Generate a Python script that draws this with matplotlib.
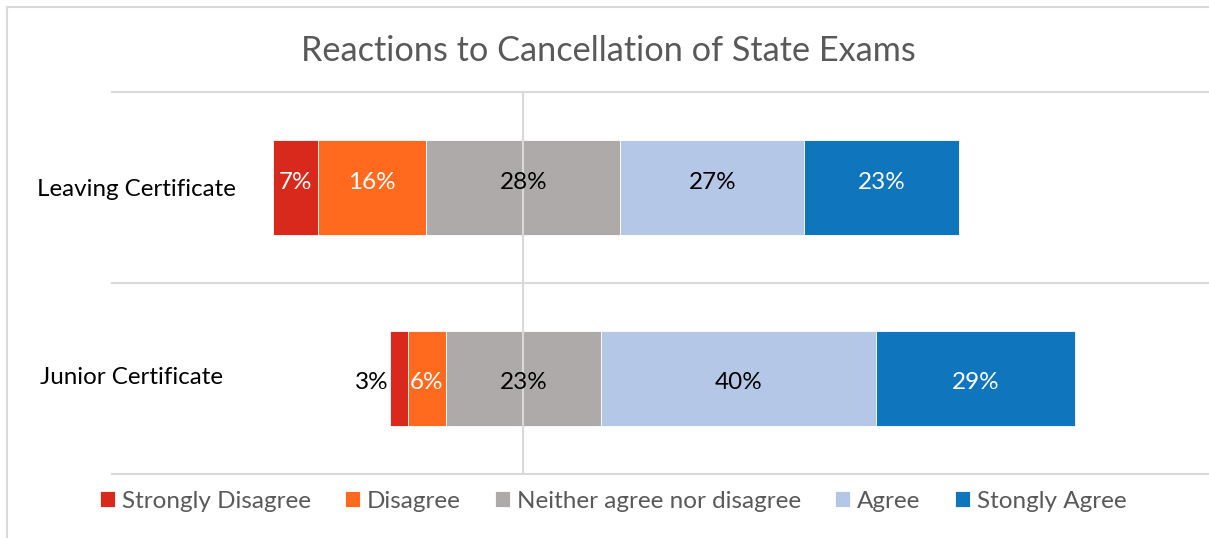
import matplotlib.pyplot as plt
from matplotlib.lines import Line2D

plt.rcParams['font.family'] = ['Lato', 'DejaVu Sans']

# Data (percent)
exams = ["Leaving Certificate", "Junior Certificate"]
responses = ["Strongly Disagree", "Disagree", "Neither agree nor disagree", "Agree", "Stongly Agree"]
leaving = [6.6, 15.8, 28.3, 26.8, 22.6]
junior = [2.6, 5.6, 22.6, 40.1, 29.1]
colors = ["#d9291c", "#ff6a1f", "#aeaaaa", "#b4c7e7", "#0f75bd"]
label_colors = ["white", "white", "black", "black", "white"]

fig = plt.figure(figsize=(12.09, 5.38), dpi=100)
W, H = 1209, 538
ax = fig.add_axes([112 / W, 1 - 474 / H, (1209 - 112) / W, (474 - 92) / H])

rows = [leaving, junior]
handles = []
for r, vals in enumerate(rows):
    # diverging: centre of the neutral segment sits on zero
    start = -(vals[0] + vals[1] + vals[2] / 2)
    for i, v in enumerate(vals):
        b = ax.barh(r, v, left=start, height=0.5, color=colors[i],
                    edgecolor="white", linewidth=0.6, zorder=2)
        if r == 0:
            handles.append(b)
        txt = f"{v:.0f}%"
        if r == 1 and i == 0:
            # small slice: label sits outside, left of the bar
            ax.text(start - 0.2, r + 0.02, txt, ha="right", va="center",
                    fontsize=17.5, color="black", zorder=4)
        else:
            ax.text(start + v / 2, r + (-0.025 if r == 0 else 0.02), txt,
                    ha="center", va="center", fontsize=17.5,
                    color=label_colors[i], zorder=4)
        start += v

ax.set_xlim(-60, 100)
ax.set_ylim(1.5, -0.5)
for y in [-0.5, 0.5, 1.5]:
    ax.axhline(y, color="#d9d9d9", linewidth=1.5, zorder=1, clip_on=False)
ax.axvline(0, color="#d9d9d9", linewidth=1.5, zorder=3)
ax.set_xticks([])
ax.set_yticks([])
for s in ax.spines.values():
    s.set_visible(False)

# category labels
fig.text(136 / W, 1 - 190 / H, exams[0], ha="center", va="center", fontsize=17.4, color="black")
fig.text(132 / W, 1 - 377 / H, exams[1], ha="center", va="center", fontsize=17.4, color="black")

fig.text(608 / W, 1 - 51 / H, "Reactions to Cancellation of State Exams",
         ha="center", va="center", fontsize=24.7, color="#595959")

fig.legend(handles, responses, loc="center", bbox_to_anchor=(613 / W, 1 - 501 / H),
           ncol=5, frameon=False, fontsize=17.5, handlelength=0.62, handleheight=0.62,
           handletextpad=0.29, columnspacing=1.4, labelcolor="#595959")

# chart border (left and top visible in the crop)
fig.add_artist(Line2D([7 / W, 7 / W], [0, 1 - 7 / H], color="#d9d9d9", linewidth=1.5))
fig.add_artist(Line2D([7 / W, 1], [1 - 7 / H, 1 - 7 / H], color="#d9d9d9", linewidth=1.5))

fig.savefig("out.png", dpi=100)
